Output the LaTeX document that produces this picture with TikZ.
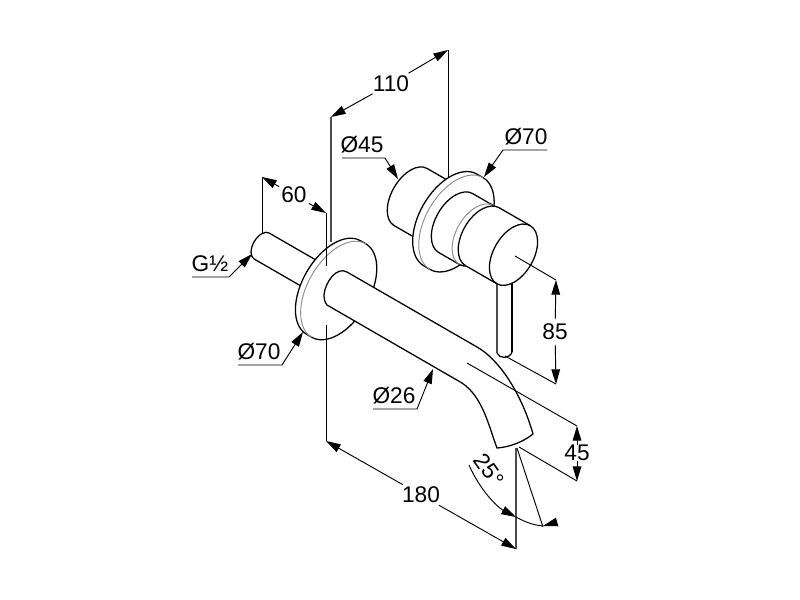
\documentclass[tikz,border=0pt]{standalone}
\usepackage{fontspec}
\setmainfont{Liberation Sans}
\usetikzlibrary{arrows.meta}

\tikzset{
  >={Triangle[length=11pt,width=6.5pt]},
  edge/.style={line width=0.95pt, black},
  heavy/.style={line width=1.1pt, black!70},
  rim/.style={line width=0.7pt, black!45},
  dim/.style={line width=0.7pt, black},
  size/.style={font=\fontsize{17}{19}\selectfont, inner sep=1.5pt},
}

% radius, minor radius, rear and front position on the axis
\newcommand{\shaft}[4]{
  \draw [edge, fill=white] (#1,#3) arc [start angle=0, end angle=-180, x radius=#1, y radius=#2]
    -- (-#1,#4) arc [start angle=180, end angle=0, x radius=#1, y radius=#2] -- cycle;
}
% radius, minor radius, position on the axis
\newcommand{\backarc}[3]{
  (#1,#3) arc [start angle=0, end angle=-180, x radius=#1, y radius=#2]
}

\begin{document}
\begin{tikzpicture}[x=0.75pt, y=-0.75pt]
\useasboundingbox (0,0) rectangle (800,600);

% end points of the dimensions
\coordinate (a110) at (331,117);
\coordinate (b110) at (448,50);
\coordinate (a60) at (262,177);
\coordinate (b60) at (326,213);
\coordinate (a180) at (326,441);
\coordinate (b180) at (516,549);
\coordinate (a85) at (556,280);
\coordinate (b85) at (556,384);
\coordinate (a45) at (577,426);
\coordinate (b45) at (577,481);

% extension lines behind the parts
\draw [heavy] (a110) -- (331,242);
\draw [dim] (b110) -- (448,178);
\draw [dim] (a60) -- (262,235);

% wall plate and inlet
\begin{scope}[shift={(333.5,287.5)}, rotate=60]
  \shaft{15}{8.6}{-83}{0}
  \shaft{54}{31}{0}{6}
  \draw [rim] \backarc{54}{31}{6};
\end{scope}

% spout
\draw [edge, fill=white] (347,272) -- (477,347)
  .. controls (500,360) and (522,395) .. (533,434)
  .. controls (523,442) and (510,447) .. (497,448)
  .. controls (489,427) and (483,397) .. (462,383)
  -- (327,305)
  .. controls (325,303) and (324,299) .. (324,295)
  .. controls (325,282) and (337,266) .. (347,272) -- cycle;

% lever
\draw [heavy] (497,280) -- (497,353);
\draw [edge] (512,280) -- (512,352);
\draw [edge] (497,353) .. controls (499,359) and (510,359) .. (512,352);

% mixer body
\begin{scope}[shift={(450.4,220)}, rotate=60]
  \shaft{33}{19}{-46}{0}
  \shaft{53}{31}{0}{7}
  \draw [rim] \backarc{53}{31}{7};
  \shaft{34}{20}{6}{30}
  \draw [rim] \backarc{34}{20}{30};
  \begin{scope}[shift={(1.5,0)}]
    \shaft{33.5}{20}{36}{72}
    \draw [edge] \backarc{33.5}{20}{72};
  \end{scope}
\end{scope}

% extension lines
\draw [dim] (b60) -- (326,266);
\draw [dim] (326,325) -- (a180);
\draw [dim] (515,256) -- (a85);
\draw [dim] (505,356) -- (b85);
\draw [dim] (467,363) -- (a45);
\draw [dim] (519,447) -- (b45);
\draw [heavy] (516,448) -- (b180);
\draw [dim] (517,448) -- (543,527);

% dimensions
\node [size] (l110) at (391,83.5) {110};
\node [size] (l60) at (294,195) {60};
\node [size] (l180) at (421,495) {180};
\node [size, inner sep=3.5pt] (l85) at (555,332) {85};
\node [size, inner sep=0pt] (l45) at (577,453) {45};

\draw [dim, ->] (l110) -- (a110);
\draw [dim, ->] (l110) -- (b110);
\draw [dim, ->] (l60) -- (a60);
\draw [dim, ->] (l60) -- (b60);
\draw [dim, ->] (l180) -- (a180);
\draw [dim, ->] (l180) -- (b180);
\draw [dim, ->] (l85) -- (a85);
\draw [dim, ->] (l85) -- (b85);
\draw [dim, ->] (l45) -- (a45);
\draw [dim, ->] (l45) -- (b45);

% angle
\node [size, rotate=-55] (l25) at (489,470) {25°};
\coordinate (s25) at (469,465);
\coordinate (m25) at (516,517);
\coordinate (e25) at (543,526);
\coordinate (f25) at (557,522);
\draw [dim, ->] (s25) .. controls (480,490) and (497,507) .. (m25);
\draw [dim] (m25) .. controls (525,522) and (533,525) .. (e25);
\draw [dim, ->] (f25) -- (e25);

% diameters and thread
\node [size] (lg) at (210,264) {G½};
\node [size] (ld70a) at (259,352) {Ø70};
\node [size] (ld26) at (394,396) {Ø26};
\node [size] (ld45) at (362,145) {Ø45};
\node [size] (ld70b) at (526,137) {Ø70};

\coordinate (ug) at (192,277);
\coordinate (vg) at (229,277);
\coordinate (tg) at (252,254);
\coordinate (ua) at (238,365);
\coordinate (va) at (282,365);
\coordinate (ta) at (303,332);
\coordinate (uc) at (373,409);
\coordinate (vc) at (417,409);
\coordinate (tc) at (433,369);
\coordinate (ud) at (342,158);
\coordinate (vd) at (385,158);
\coordinate (td) at (398,179);
\coordinate (ue) at (547,150);
\coordinate (ve) at (503,150);
\coordinate (te) at (484,177);

\draw [dim, ->] (ug) -- (vg) -- (tg);
\draw [dim, ->] (ua) -- (va) -- (ta);
\draw [dim, ->] (uc) -- (vc) -- (tc);
\draw [dim, ->] (ud) -- (vd) -- (td);
\draw [dim, ->] (ue) -- (ve) -- (te);

\end{tikzpicture}
\end{document}
